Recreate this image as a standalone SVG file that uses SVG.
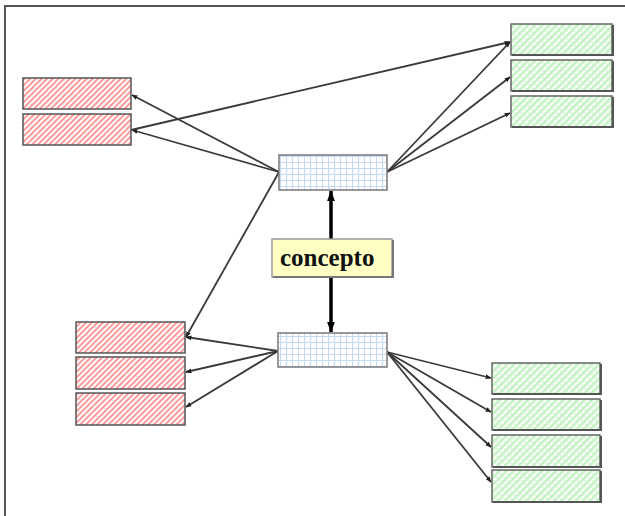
<svg xmlns="http://www.w3.org/2000/svg" width="625" height="516" viewBox="0 0 625 516">
<defs>
<pattern id="redHatch" patternUnits="userSpaceOnUse" width="4" height="4" patternTransform="rotate(45)">
<rect width="4" height="4" fill="#ffffff"/>
<rect width="2" height="4" fill="#ff9a9a"/>
</pattern>
<pattern id="greenHatch" patternUnits="userSpaceOnUse" width="5" height="5" patternTransform="rotate(45)">
<rect width="5" height="5" fill="#ffffff"/>
<rect width="2.5" height="5" fill="#c4f2c4"/>
<rect x="2.5" width="2.5" height="2" fill="#e2f9e2"/>
</pattern>
<pattern id="blueGrid" patternUnits="userSpaceOnUse" width="6" height="6" x="280" y="156">
<rect width="6" height="6" fill="#ffffff"/>
<path d="M0 0.5H6M0.5 0V6" stroke="#c4daf6" stroke-width="1.2" fill="none"/>
</pattern>
<marker id="ah" viewBox="0 0 10 10" refX="9" refY="5" markerWidth="6" markerHeight="6" orient="auto" markerUnits="userSpaceOnUse">
<path d="M0 1L10 5L0 9Z" fill="#222"/>
</marker>
<marker id="ahBig" viewBox="0 0 10 10" refX="9" refY="5" markerWidth="11" markerHeight="11" orient="auto" markerUnits="userSpaceOnUse">
<path d="M0 1.5L10 5L0 8.5Z" fill="#000"/>
</marker>
</defs>
<style>
.frame{fill:none;stroke:#555;stroke-width:2}
.red{fill:url(#redHatch);stroke:#555;stroke-width:1.5}
.green{fill:url(#greenHatch);stroke:#666;stroke-width:1.5}
.blue{fill:url(#blueGrid);stroke:#777;stroke-width:1.5}
.shadow{fill:none;stroke:#555;stroke-width:2}
.concept{fill:#ffffc4;stroke:#999;stroke-width:1.5}
.lbl{font-family:"Liberation Serif",serif;font-weight:bold;font-size:25px;fill:#111}
.conn{stroke:#3a3a3a;stroke-width:1.8;fill:none;marker-end:url(#ah)}
.thick{stroke:#000;stroke-width:3.5;fill:none;marker-end:url(#ahBig)}
</style>
<rect class="frame" x="5" y="6" width="640" height="530"/>
<g id="connectors">
<line class="conn" x1="279" y1="172" x2="132" y2="95"/>
<line class="conn" x1="279" y1="172" x2="132" y2="130"/>
<line class="conn" x1="279" y1="172" x2="186" y2="337"/>
<line class="conn" x1="131" y1="130" x2="510" y2="42"/>
<line class="conn" x1="387" y1="172" x2="510" y2="42"/>
<line class="conn" x1="387" y1="172" x2="510" y2="77"/>
<line class="conn" x1="387" y1="172" x2="510" y2="113"/>
<line class="conn" x1="278" y1="351" x2="186" y2="337"/>
<line class="conn" x1="278" y1="351" x2="186" y2="372"/>
<line class="conn" x1="278" y1="351" x2="186" y2="407"/>
<line class="conn" x1="387" y1="352" x2="491" y2="378"/>
<line class="conn" x1="387" y1="352" x2="491" y2="412"/>
<line class="conn" x1="387" y1="352" x2="491" y2="447"/>
<line class="conn" x1="387" y1="352" x2="491" y2="482"/>
<line class="thick" x1="331" y1="239" x2="331" y2="191"/>
<line class="thick" x1="331" y1="277" x2="331" y2="332"/>
</g>
<g id="red1"><rect class="red" x="23" y="78" width="108" height="31"/></g>
<g id="red2"><rect class="red" x="23" y="114" width="108" height="31"/></g>
<g id="red3"><rect class="red" x="76" y="322" width="109" height="31"/></g>
<g id="red4"><rect class="red" x="76" y="357" width="109" height="32"/></g>
<g id="red5"><rect class="red" x="76" y="393" width="109" height="32"/></g>
<g id="green1"><rect class="green" x="511" y="24" width="101" height="31"/><path class="shadow" d="M512 55H613V25"/></g>
<g id="green2"><rect class="green" x="511" y="60" width="101" height="31"/><path class="shadow" d="M512 91H613V61"/></g>
<g id="green3"><rect class="green" x="511" y="96" width="101" height="31"/><path class="shadow" d="M512 127H613V97"/></g>
<g id="green4"><rect class="green" x="492" y="363" width="108" height="31"/><path class="shadow" d="M493 394H601V364"/></g>
<g id="green5"><rect class="green" x="492" y="399" width="108" height="31"/><path class="shadow" d="M493 430H601V400"/></g>
<g id="green6"><rect class="green" x="492" y="435" width="108" height="32"/><path class="shadow" d="M493 467H601V436"/></g>
<g id="green7"><rect class="green" x="492" y="470" width="108" height="32"/><path class="shadow" d="M493 502H601V471"/></g>
<g id="blue1"><rect class="blue" x="279" y="155" width="108" height="35"/></g>
<g id="blue2"><rect class="blue" x="278" y="333" width="109" height="34"/></g>
<g id="concept"><rect class="concept" x="272" y="239" width="120" height="38"/><path d="M273 277H393V240" fill="none" stroke="#777" stroke-width="2"/><text class="lbl" x="280" y="266">concepto</text></g>
</svg>
